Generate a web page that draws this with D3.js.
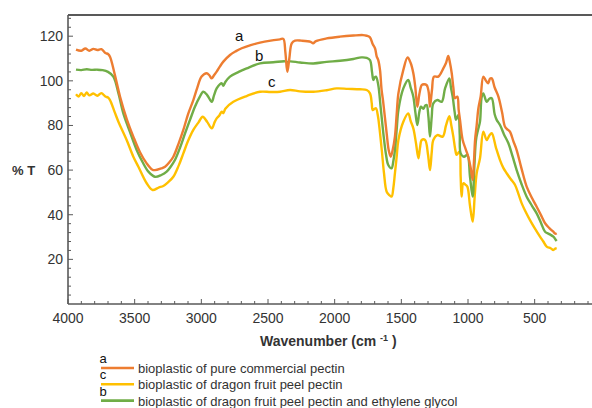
<!DOCTYPE html>
<html>
<head>
<meta charset="utf-8">
<script src="https://cdn.jsdelivr.net/npm/d3@7"></script>
<style>
  body { margin: 0; background: #fff; }
  svg { display: block; font-family: Arial, "Liberation Sans", sans-serif; }
</style>
</head>
<body>
<div id="chart"></div>
<script>
// FTIR spectra of three bioplastics, [wavenumber, %T]

const seriesA = [[3940,114],[3900,113.5],[3870,114.5],[3840,113.5],[3810,114.3],[3780,113.8],[3750,114.2],[3720,112.5],[3700,112],[3685,110.8],[3650,103],[3610,93],[3560,83],[3510,75],[3460,68],[3410,63],[3370,60.3],[3348,60],[3300,60.8],[3272,61.5],[3240,63.5],[3210,66],[3170,72],[3135,78],[3100,85],[3060,91.4],[3030,97],[2998,101.9],[2960,103.4],[2940,102.5],[2922,101.1],[2905,102.5],[2885,104.1],[2860,106.5],[2835,108.6],[2785,111.6],[2740,113.3],[2697,114.6],[2630,116],[2560,117.1],[2480,118],[2410,118.6],[2385,118.8],[2370,113],[2355,104],[2340,110],[2322,116.8],[2297,118],[2250,118],[2180,117.5],[2162,116.8],[2140,117.8],[2060,119],[1960,119.8],[1860,120.3],[1787,120.5],[1760,120.2],[1735,119.5],[1715,116.5],[1697,114.5],[1685,111],[1673,109.3],[1660,104.9],[1648,95.9],[1637,91],[1610,76.5],[1595,69],[1580,66],[1565,69],[1548,75],[1535,85],[1522,94.4],[1485,104.9],[1453,110.5],[1430,108],[1410,103.4],[1395,97],[1380,88.4],[1365,94],[1347,98.1],[1330,98.5],[1310,98.1],[1295,95],[1285,88.4],[1270,96],[1255,101.9],[1223,101.9],[1185,105.6],[1165,108],[1148,111.1],[1135,108],[1122,103.4],[1110,97],[1098,92.2],[1080,92.9],[1070,87],[1060,82.5],[1040,73.5],[1015,69],[998,66],[980,61],[965,55.6],[955,64],[947,73.5],[935,80],[922,87.7],[905,93],[885,101.9],[865,100],[848,98.9],[835,101],[822,101.1],[800,97],[772,92.9],[745,86],[722,79.4],[700,78],[685,77.2],[660,73],[635,69],[600,61],[560,52.6],[520,47.5],[485,43.6],[450,39.5],[422,36.2],[390,34],[360,32.4],[345,31.5],[335,31.7]];

const seriesB = [[3940,105],[3900,104.8],[3860,105.2],[3820,104.9],[3780,105],[3740,104.8],[3700,104],[3660,101.9],[3620,94],[3585,85.4],[3535,77],[3485,69],[3440,63.5],[3397,59.3],[3348,57],[3300,57.8],[3260,59.3],[3230,61.5],[3198,64.5],[3160,70],[3122,76.5],[3085,82.5],[3048,88.4],[3015,92.5],[2985,95.1],[2955,93.5],[2922,90.6],[2905,93.5],[2885,96.6],[2860,98.5],[2847,98.9],[2835,97.8],[2820,99.5],[2785,101.9],[2720,104],[2660,105.6],[2560,107.8],[2460,108.3],[2360,108.6],[2355,107.5],[2345,108.6],[2260,108.2],[2160,107.8],[2060,108.5],[1960,109],[1860,109.8],[1800,110.5],[1760,110.3],[1735,109.3],[1720,104],[1710,100.4],[1700,101.5],[1690,101.9],[1673,98.1],[1655,88],[1635,76.5],[1615,67],[1598,62.3],[1573,60.8],[1560,64],[1548,69],[1535,78],[1522,86.9],[1485,96.6],[1448,100.4],[1430,97],[1410,92.9],[1395,86],[1380,80.2],[1365,86],[1353,88.4],[1335,87.5],[1320,89],[1310,89.2],[1297,84],[1285,75],[1272,84],[1260,89.9],[1230,91.4],[1197,90.6],[1172,96.6],[1140,101.1],[1128,97],[1115,92.9],[1100,86],[1090,82.5],[1072,84.7],[1062,76],[1055,67.5],[1030,66],[1005,66.8],[985,57],[965,48.1],[952,62],[940,73.5],[925,78],[910,81.7],[897,92.9],[885,94.4],[860,90.6],[840,92],[822,92.2],[800,85],[785,82.5],[760,80.2],[730,76],[697,72],[665,66],[635,60],[600,54],[560,48.1],[520,44],[485,40.6],[450,36],[422,32.4],[390,31.3],[360,30.2],[345,29],[335,28.2]];

const seriesC = [[3940,94],[3920,93],[3900,94.5],[3880,93.2],[3860,94.8],[3840,93.5],[3810,94.3],[3780,93.3],[3750,94.5],[3720,93],[3700,92.5],[3685,91.4],[3650,86],[3622,81.7],[3560,73.5],[3510,66],[3472,61.5],[3410,54.1],[3365,51.1],[3320,52.2],[3285,52.9],[3250,54.5],[3210,57],[3170,62],[3135,67.5],[3100,73],[3060,78],[3020,81.5],[2990,83.9],[2955,81.5],[2922,78.7],[2900,81.5],[2885,83.2],[2865,84.5],[2847,86.2],[2835,85.5],[2820,87.5],[2760,90.6],[2660,93.2],[2560,95.1],[2480,95],[2410,95.1],[2335,95.9],[2260,95.3],[2160,95.1],[2060,95.8],[1985,96.6],[1900,96.4],[1810,96.2],[1760,95.9],[1735,94.4],[1722,90],[1715,86.9],[1700,87.5],[1690,87.7],[1675,84],[1665,79.4],[1645,68],[1630,58.6],[1610,50.3],[1590,48.8],[1573,48.1],[1560,52],[1548,58.6],[1535,66],[1522,73.5],[1485,81.7],[1448,85.4],[1430,82],[1410,78.7],[1390,72],[1372,65.3],[1360,70],[1347,73.5],[1322,73.5],[1300,67],[1285,60],[1272,68],[1260,73.5],[1230,75.7],[1190,75],[1165,80],[1140,84.2],[1125,80],[1110,75],[1095,69],[1085,66.8],[1065,68.2],[1055,57],[1048,48.1],[1035,54.1],[1020,53.5],[1005,52.6],[985,44],[965,36.9],[950,48],[935,58.6],[910,65.3],[885,77.2],[860,73.5],[840,75.5],[822,76.5],[790,70],[760,64.5],[735,61],[710,58.6],[680,56],[647,53.3],[620,49],[597,45.1],[565,41],[535,37.6],[500,34],[460,30.2],[435,28],[410,25.7],[380,25],[360,24.2],[345,24.8],[335,25]];

const xTickValues = [4000, 3500, 3000, 2500, 2000, 1500, 1000, 500];
const yTickValues = [20, 40, 60, 80, 100, 120];

const legendItems = [
  { letter: 'a', label: 'bioplastic of pure commercial pectin', color: '#ED7D31' },
  { letter: 'c', label: 'bioplastic of dragon fruit peel pectin', color: '#FFC000' },
  { letter: 'b', label: 'bioplastic of dragon fruit peel pectin and ethylene glycol', color: '#70AD47' },
];

// letters placed next to the curves
const curveLetters = [
  { t: 'a', wn: 2716, v: 115.6 },
  { t: 'b', wn: 2566, v: 106.6 },
  { t: 'c', wn: 2472, v: 95 },
];

const width = 592, height = 408;
const axisColor = '#595959';
const textColor = '#333';

const svg = d3.select('#chart').append('svg')
  .attr('width', width)
  .attr('height', height)
  .attr('viewBox', `0 0 ${width} ${height}`);

const x = d3.scaleLinear().domain([4000, 70]).range([68, 592]);
const y = d3.scaleLinear().domain([0, 129.5]).range([304, 15]);

// spectra (yellow under green under orange)
const line = d3.line()
  .x((d) => x(d[0]))
  .y((d) => y(d[1]))
  .curve(d3.curveCatmullRom.alpha(0.5));

const drawOrder = [
  { data: seriesC, color: '#FFC000' },
  { data: seriesB, color: '#70AD47' },
  { data: seriesA, color: '#ED7D31' },
];
svg.append('g').selectAll('path')
  .data(drawOrder)
  .join('path')
  .attr('d', (d) => line(d.data))
  .attr('fill', 'none')
  .attr('stroke', (d) => d.color)
  .attr('stroke-width', 2.4)
  .attr('stroke-linejoin', 'round');

// frame: left, bottom and top lines (right side is cropped away)
const x0 = x(4000), yBot = y(0), yTop = 15;
svg.append('line').attr('x1', x0).attr('x2', width).attr('y1', yTop).attr('y2', yTop)
  .attr('stroke', axisColor).attr('stroke-width', 2);
svg.append('line').attr('x1', x0).attr('x2', width).attr('y1', yBot).attr('y2', yBot)
  .attr('stroke', axisColor).attr('stroke-width', 1.6);
svg.append('line').attr('x1', x0).attr('x2', x0).attr('y1', yTop).attr('y2', yBot)
  .attr('stroke', axisColor).attr('stroke-width', 1.6);

// inward ticks
const xMinor = d3.range(4000, 70, -100);
svg.append('g').selectAll('line')
  .data(xMinor)
  .join('line')
  .attr('x1', (d) => x(d)).attr('x2', (d) => x(d))
  .attr('y1', yBot).attr('y2', (d) => yBot - (d % 500 === 0 ? 5 : 3))
  .attr('stroke', axisColor).attr('stroke-width', 1);

const yMinor = d3.range(4, 129, 4);
svg.append('g').selectAll('line')
  .data(yMinor)
  .join('line')
  .attr('x1', x0).attr('x2', (d) => x0 + (d % 20 === 0 ? 5 : 3))
  .attr('y1', (d) => y(d)).attr('y2', (d) => y(d))
  .attr('stroke', axisColor).attr('stroke-width', 1);

// tick labels
svg.append('g').selectAll('text')
  .data(xTickValues)
  .join('text')
  .attr('x', (d) => x(d))
  .attr('y', 323)
  .attr('text-anchor', 'middle')
  .attr('font-size', 14)
  .attr('fill', textColor)
  .text((d) => d);

svg.append('g').selectAll('text')
  .data(yTickValues)
  .join('text')
  .attr('x', 63)
  .attr('y', (d) => y(d) + 5)
  .attr('text-anchor', 'end')
  .attr('font-size', 14)
  .attr('fill', textColor)
  .text((d) => d);

// axis titles
svg.append('text')
  .attr('x', 12).attr('y', 175)
  .attr('font-size', 13).attr('font-weight', 'bold').attr('fill', textColor)
  .text('% T');

const xt = svg.append('text')
  .attr('x', 260).attr('y', 346)
  .attr('font-size', 14).attr('font-weight', 'bold').attr('fill', textColor);
xt.append('tspan').text('Wavenumber (cm ');
xt.append('tspan').attr('font-size', 9).attr('dy', -5).text('-1');
xt.append('tspan').attr('dy', 5).text(' )');

svg.append('g').selectAll('text')
  .data(curveLetters)
  .join('text')
  .attr('x', (d) => x(d.wn))
  .attr('y', (d) => y(d.v) - 5)
  .attr('text-anchor', 'middle')
  .attr('font-size', 15)
  .attr('fill', '#111')
  .text((d) => d.t);

// legend
const lg = svg.append('g').selectAll('g')
  .data(legendItems)
  .join('g')
  .attr('transform', (d, i) => `translate(0, ${368 + i * 16.3})`);
lg.append('line')
  .attr('x1', 101).attr('x2', 134).attr('y1', 0).attr('y2', 0)
  .attr('stroke', (d) => d.color).attr('stroke-width', 2.6);
lg.append('text')
  .attr('x', 103).attr('y', -5)
  .attr('text-anchor', 'middle')
  .attr('font-size', 13).attr('fill', '#111')
  .text((d) => d.letter);
lg.append('text')
  .attr('x', 138).attr('y', 5)
  .attr('font-size', 13).attr('fill', textColor)
  .text((d) => d.label);
</script>
</body>
</html>
